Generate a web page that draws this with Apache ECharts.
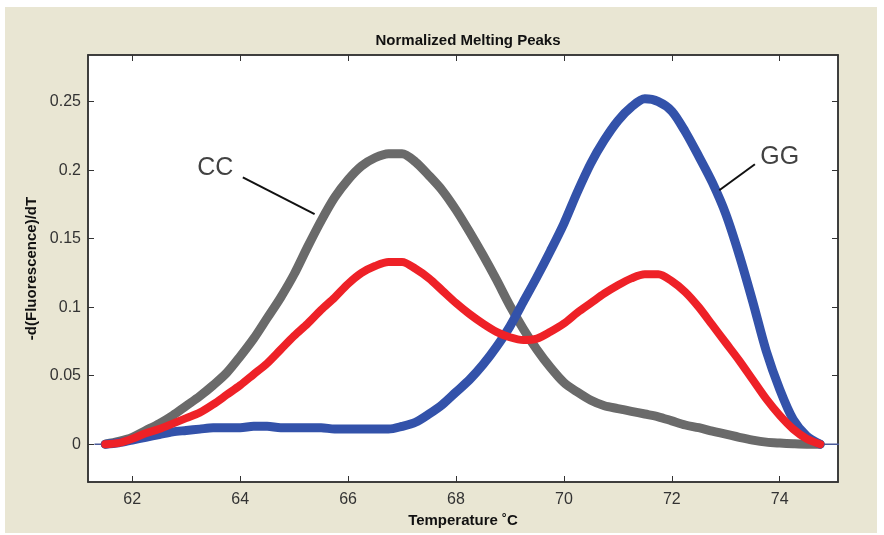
<!DOCTYPE html>
<html>
<head>
<meta charset="utf-8">
<style>
  html, body { margin: 0; padding: 0; background: #ffffff; }
  #chart { width: 884px; height: 535px; }
</style>
<script src="https://cdn.jsdelivr.net/npm/echarts@6/dist/echarts.min.js"></script>
</head>
<body>
<div id="chart"></div>
<script>
// temperatures (deg C) sampled along the melting curves
const temps = [61.3,
  61.5, 61.75,
  62.0, 62.25, 62.5, 62.75,
  63.0, 63.25, 63.5, 63.75,
  64.0, 64.25, 64.5, 64.75,
  65.0, 65.25, 65.5, 65.75,
  66.0, 66.25, 66.5, 66.75,
  67.0, 67.25, 67.5, 67.75,
  68.0, 68.25, 68.5, 68.75,
  69.0, 69.25, 69.5, 69.75,
  70.0, 70.25, 70.5, 70.75,
  71.0, 71.25, 71.5, 71.75,
  72.0, 72.25, 72.5, 72.75,
  73.0, 73.25, 73.5, 73.75,
  74.0, 74.25, 74.5, 74.75,
  75.1];

// -d(F)/dT for each genotype (band centres)
const ccValues = [0,
  0, 0.002,
  0.005, 0.010, 0.015, 0.021,
  0.028, 0.035, 0.043, 0.052,
  0.064, 0.077, 0.092, 0.107,
  0.124, 0.144, 0.163, 0.180,
  0.193, 0.203, 0.209, 0.212,
  0.212, 0.206, 0.196, 0.185,
  0.171, 0.155, 0.138, 0.120,
  0.101, 0.084, 0.069, 0.056,
  0.045, 0.038, 0.032, 0.028,
  0.026, 0.024, 0.022, 0.020,
  0.017, 0.014, 0.012, 0.0095,
  0.0073, 0.005, 0.003, 0.0015,
  0.0008, 0.0003, 0, 0,
  0];
const cgValues = [0,
  0, 0.001,
  0.004, 0.008, 0.011, 0.015,
  0.019, 0.023, 0.029, 0.036,
  0.043, 0.051, 0.059, 0.069,
  0.079, 0.088, 0.098, 0.107,
  0.117, 0.125, 0.130, 0.133,
  0.133, 0.128, 0.121, 0.112,
  0.103, 0.095, 0.088, 0.082,
  0.078, 0.076, 0.077, 0.082,
  0.088, 0.096, 0.103, 0.110,
  0.116, 0.121, 0.124, 0.124,
  0.119, 0.111, 0.100, 0.087,
  0.074, 0.061, 0.047, 0.033,
  0.021, 0.011, 0.004, 0,
  0];
const ggValues = [0,
  0, 0.001,
  0.003, 0.005, 0.007, 0.009,
  0.010, 0.011, 0.012, 0.012,
  0.012, 0.013, 0.013, 0.012,
  0.012, 0.012, 0.012, 0.011,
  0.011, 0.011, 0.011, 0.011,
  0.013, 0.016, 0.022, 0.029,
  0.038, 0.047, 0.058, 0.071,
  0.086, 0.104, 0.122, 0.141,
  0.161, 0.184, 0.205, 0.222,
  0.236, 0.246, 0.252, 0.250,
  0.243, 0.228, 0.210, 0.191,
  0.168, 0.138, 0.104, 0.068,
  0.040, 0.018, 0.006, 0,
  0];

const xTicks = [62, 64, 66, 68, 70, 72, 74];
const yTicks = [0, 0.05, 0.1, 0.15, 0.2, 0.25];

// callouts: label position and leader line (data coords)
const ccLabel = [63.54, 0.2014];
const ccLeader = [[64.05, 0.1947], [65.38, 0.1679]];
const ggLabel = [74.0, 0.2094];
const ggLeader = [[73.54, 0.2043], [72.88, 0.1853]];

const GREY = "#6a6a6a";
const RED = "#ee2127";
const BLUE = "#3352aa";
const FONT = "Liberation Sans, Arial, sans-serif";

const last = temps.length - 1;
// thick bands run between the normalisation points, the flat ends are thin
const bandPairs = (vals) => temps.slice(1, last).map((t, i) => [t, vals[i + 1]]);
const baselinePairs = [
  [temps[0], ggValues[0]], [temps[1], ggValues[1]], [NaN, NaN],
  [temps[last - 1], ggValues[last - 1]], [temps[last], ggValues[last]],
];

const chart = echarts.init(document.getElementById("chart"), null, { renderer: "canvas" });

const tickFmt = (v) => String(+v.toFixed(2));

const curve = (name, vals, color, width) => ({
  name,
  type: "line",
  data: bandPairs(vals),
  smooth: 0.3,
  showSymbol: false,
  symbol: "none",
  lineStyle: { color, width, cap: "round", join: "round" },
  z: 3,
});

const axisLineStyle = { show: true, onZero: false, lineStyle: { color: "#333", width: 1.5 } };

chart.setOption({
  animation: false,
  backgroundColor: "#ffffff",
  graphic: [
    {
      type: "rect",
      z: -10,
      silent: true,
      shape: { x: 5, y: 7, width: 872, height: 526 },
      style: { fill: "#e9e6d3" },
    },
  ],
  title: {
    text: "Normalized Melting Peaks",
    left: 463,
    textAlign: "center",
    top: 28,
    textStyle: { fontFamily: FONT, fontWeight: "bold", fontSize: 15, color: "#111" },
  },
  grid: {
    left: 88,
    top: 55,
    width: 750,
    height: 427,
    show: true,
    backgroundColor: "#ffffff",
    borderColor: "#333",
    borderWidth: 1.5,
  },
  xAxis: [
    {
      type: "value",
      min: 61.18,
      max: 75.08,
      name: "Temperature ˚C",
      nameLocation: "middle",
      nameGap: 31,
      nameTextStyle: { fontFamily: FONT, fontWeight: "bold", fontSize: 15, color: "#111" },
      axisLine: axisLineStyle,
      axisTick: { show: true, inside: true, length: 6, customValues: xTicks, lineStyle: { color: "#333" } },
      axisLabel: { customValues: xTicks, margin: 10, fontFamily: FONT, fontSize: 16, color: "#333" },
      splitLine: { show: false },
    },
    {
      type: "value",
      position: "top",
      min: 61.18,
      max: 75.08,
      axisLine: axisLineStyle,
      axisTick: { show: true, inside: true, length: 6, customValues: xTicks, lineStyle: { color: "#333" } },
      axisLabel: { show: false },
      splitLine: { show: false },
    },
  ],
  yAxis: [
    {
      type: "value",
      min: -0.0276,
      max: 0.284,
      name: "-d(Fluorescence)/dT",
      nameLocation: "middle",
      nameGap: 42,
      nameTextStyle: { fontFamily: FONT, fontWeight: "bold", fontSize: 15, color: "#111" },
      axisLine: axisLineStyle,
      axisTick: { show: true, inside: true, length: 6, customValues: yTicks, lineStyle: { color: "#333" } },
      axisLabel: { customValues: yTicks, margin: 7, fontFamily: FONT, fontSize: 16, color: "#333", formatter: tickFmt },
      splitLine: { show: false },
    },
    {
      type: "value",
      position: "right",
      min: -0.0276,
      max: 0.284,
      axisLine: axisLineStyle,
      axisTick: { show: true, inside: true, length: 6, customValues: yTicks, lineStyle: { color: "#333" } },
      axisLabel: { show: false },
      splitLine: { show: false },
    },
  ],
  series: [
    {
      type: "line",
      data: baselinePairs,
      showSymbol: false,
      connectNulls: false,
      lineStyle: { color: "#4a5a9a", width: 1.5 },
      z: 2,
    },
    curve("CC", ccValues, GREY, 9),
    curve("GG", ggValues, BLUE, 9),
    curve("CG", cgValues, RED, 8),
    {
      type: "lines",
      coordinateSystem: "cartesian2d",
      data: [{ coords: ccLeader }, { coords: ggLeader }],
      lineStyle: { color: "#111", width: 2, opacity: 1 },
      z: 5,
    },
    {
      type: "scatter",
      symbolSize: 0,
      data: [
        { value: ccLabel, label: { formatter: "CC" } },
        { value: ggLabel, label: { formatter: "GG" } },
      ],
      label: {
        show: true,
        position: "inside",
        fontFamily: FONT,
        fontSize: 25,
        color: "#111",
      },
      z: 6,
    },
  ],
});
</script>
</body>
</html>
